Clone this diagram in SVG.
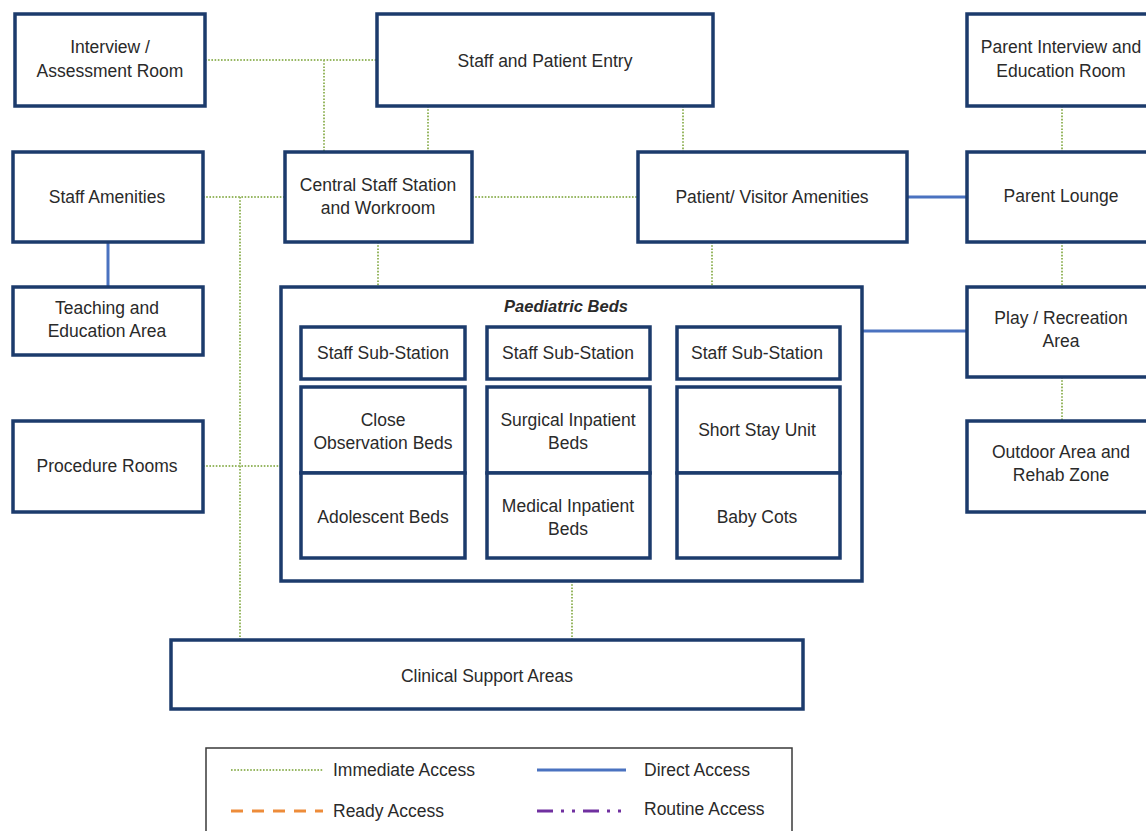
<svg xmlns="http://www.w3.org/2000/svg" width="1146" height="831" viewBox="0 0 1146 831">
  <style>
    .box { fill: #ffffff; stroke: #1c3b6c; stroke-width: 3.5; }
    .t { font-family: "Liberation Sans", Arial, sans-serif; font-size: 17.5px; fill: #2a2a2a; text-anchor: middle; }
    .title { font-weight: bold; font-style: italic; font-size: 16.5px; }
    .lt { font-family: "Liberation Sans", Arial, sans-serif; font-size: 17.5px; fill: #2a2a2a; }
    .immediate { stroke: #97b762; stroke-width: 2; stroke-dasharray: 1.6 1.6; fill: none; }
    .direct { stroke: #4a72c0; stroke-width: 3; fill: none; }
    .ready { stroke: #ed8c3a; stroke-width: 3; stroke-dasharray: 12 9; fill: none; }
    .routine { stroke: #7030a0; stroke-width: 3; stroke-dasharray: 16 8 3 8 3 8; fill: none; }
  </style>
  <rect width="1146" height="831" fill="#ffffff"/>

  <!-- connectors -->
  <g id="connectors">
    <path class="immediate" d="M205 60 H377"/>
    <path class="immediate" d="M324 60 V152"/>
    <path class="immediate" d="M428 106 V152"/>
    <path class="immediate" d="M683 106 V152"/>
    <path class="immediate" d="M203 197 H285"/>
    <path class="immediate" d="M240 197 V640"/>
    <path class="immediate" d="M203 466 H281"/>
    <path class="immediate" d="M472 197 H638"/>
    <path class="immediate" d="M378 242 V287"/>
    <path class="immediate" d="M712 242 V287"/>
    <path class="immediate" d="M1062 106 V152"/>
    <path class="immediate" d="M1062 242 V287"/>
    <path class="immediate" d="M1062 377 V421"/>
    <path class="immediate" d="M572 581 V640"/>
    <path class="direct" d="M907 197 H967"/>
    <path class="direct" d="M108 242 V287"/>
    <path class="direct" d="M862 331 H967"/>
  </g>

  <g id="interview-assessment">
    <rect class="box" x="15" y="14" width="190" height="92"/>
    <text class="t" x="110" y="53">Interview /</text>
    <text class="t" x="110" y="77">Assessment Room</text>
  </g>
  <g id="staff-patient-entry">
    <rect class="box" x="377" y="14" width="336" height="92"/>
    <text class="t" x="545" y="67">Staff and Patient Entry</text>
  </g>
  <g id="parent-interview">
    <rect class="box" x="967" y="14" width="192" height="92"/>
    <text class="t" x="1061" y="53">Parent Interview and</text>
    <text class="t" x="1061" y="77">Education Room</text>
  </g>
  <g id="staff-amenities">
    <rect class="box" x="13" y="152" width="190" height="90"/>
    <text class="t" x="107" y="203">Staff Amenities</text>
  </g>
  <g id="central-staff-station">
    <rect class="box" x="285" y="152" width="187" height="90"/>
    <text class="t" x="378" y="191">Central Staff Station</text>
    <text class="t" x="378" y="214">and Workroom</text>
  </g>
  <g id="patient-visitor-amenities">
    <rect class="box" x="638" y="152" width="269" height="90"/>
    <text class="t" x="772" y="203">Patient/ Visitor Amenities</text>
  </g>
  <g id="parent-lounge">
    <rect class="box" x="967" y="152" width="192" height="90"/>
    <text class="t" x="1061" y="202">Parent Lounge</text>
  </g>
  <g id="teaching-education">
    <rect class="box" x="13" y="287" width="190" height="68"/>
    <text class="t" x="107" y="314">Teaching and</text>
    <text class="t" x="107" y="337">Education Area</text>
  </g>
  <g id="play-recreation">
    <rect class="box" x="967" y="287" width="192" height="90"/>
    <text class="t" x="1061" y="324">Play / Recreation</text>
    <text class="t" x="1061" y="347">Area</text>
  </g>
  <g id="procedure-rooms">
    <rect class="box" x="13" y="421" width="190" height="91"/>
    <text class="t" x="107" y="472">Procedure Rooms</text>
  </g>
  <g id="outdoor-rehab">
    <rect class="box" x="967" y="421" width="192" height="91"/>
    <text class="t" x="1061" y="458">Outdoor Area and</text>
    <text class="t" x="1061" y="481">Rehab Zone</text>
  </g>

  <g id="paediatric-beds">
    <rect class="box" x="281" y="287" width="581" height="294"/>
    <text class="t title" x="566" y="312">Paediatric Beds</text>
    <g id="substation-1">
      <rect class="box" x="301" y="327" width="164" height="52"/>
      <text class="t" x="383" y="359">Staff Sub-Station</text>
    </g>
    <g id="substation-2">
      <rect class="box" x="487" y="327" width="163" height="52"/>
      <text class="t" x="568" y="359">Staff Sub-Station</text>
    </g>
    <g id="substation-3">
      <rect class="box" x="677" y="327" width="163" height="52"/>
      <text class="t" x="757" y="359">Staff Sub-Station</text>
    </g>
    <g id="close-observation">
      <rect class="box" x="301" y="387" width="164" height="86"/>
      <text class="t" x="383" y="426">Close</text>
      <text class="t" x="383" y="449">Observation Beds</text>
    </g>
    <g id="adolescent-beds">
      <rect class="box" x="301" y="473" width="164" height="85"/>
      <text class="t" x="383" y="523">Adolescent Beds</text>
    </g>
    <g id="surgical-inpatient">
      <rect class="box" x="487" y="387" width="163" height="86"/>
      <text class="t" x="568" y="426">Surgical Inpatient</text>
      <text class="t" x="568" y="449">Beds</text>
    </g>
    <g id="medical-inpatient">
      <rect class="box" x="487" y="473" width="163" height="85"/>
      <text class="t" x="568" y="512">Medical Inpatient</text>
      <text class="t" x="568" y="535">Beds</text>
    </g>
    <g id="short-stay">
      <rect class="box" x="677" y="387" width="163" height="86"/>
      <text class="t" x="757" y="436">Short Stay Unit</text>
    </g>
    <g id="baby-cots">
      <rect class="box" x="677" y="473" width="163" height="85"/>
      <text class="t" x="757" y="523">Baby Cots</text>
    </g>
  </g>

  <g id="clinical-support">
    <rect class="box" x="171" y="640" width="632" height="69"/>
    <text class="t" x="487" y="682">Clinical Support Areas</text>
  </g>

  <g id="legend">
    <rect x="206" y="748" width="586" height="100" fill="#ffffff" stroke="#3a3a3a" stroke-width="1.5"/>
    <path class="immediate" d="M231 770 H323"/>
    <text class="lt" x="333" y="776">Immediate Access</text>
    <path class="direct" d="M537 770 H626"/>
    <text class="lt" x="644" y="776">Direct Access</text>
    <path class="ready" d="M231 811 H323"/>
    <text class="lt" x="333" y="817">Ready Access</text>
    <path class="routine" d="M537 811 H626"/>
    <text class="lt" x="644" y="815">Routine Access</text>
  </g>
</svg>
